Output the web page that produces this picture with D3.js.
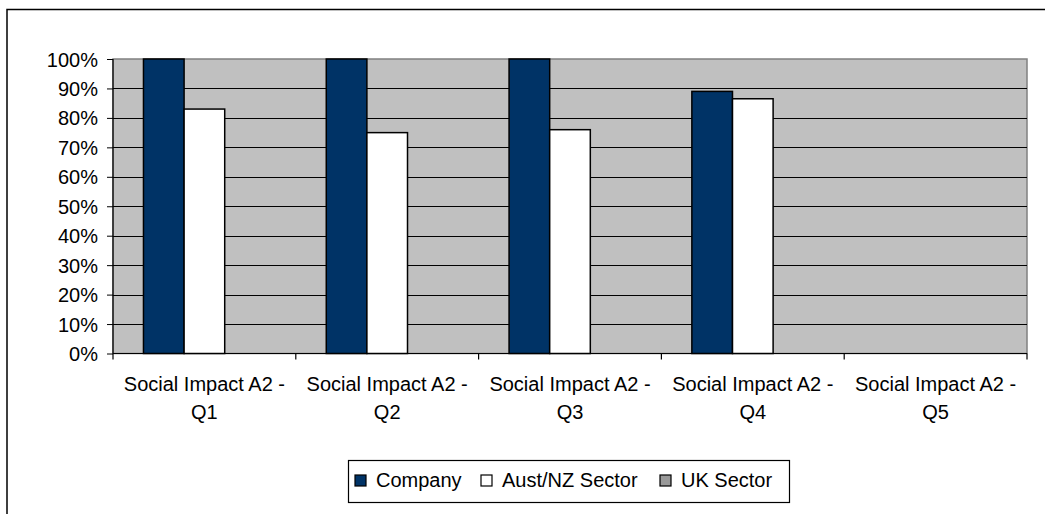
<!DOCTYPE html>
<html><head><meta charset="utf-8">
<script src="https://cdn.jsdelivr.net/npm/d3@7"></script>
<style>html,body{margin:0;padding:0;background:#fff;overflow:hidden}svg{display:block;font-family:"Liberation Sans",Arial,sans-serif}</style>
</head><body>
<svg id="c" width="1045" height="514"></svg>
<script>
const categories = ["Social Impact A2 - Q1","Social Impact A2 - Q2","Social Impact A2 - Q3","Social Impact A2 - Q4","Social Impact A2 - Q5"];
const seriesNames = ["Company","Aust/NZ Sector","UK Sector"];
const company = [1.00, 1.00, 1.00, 0.89, null];
const austNZ = [0.83, 0.75, 0.76, 0.865, null];
const uk = [null, null, null, null, null];
const yTicks = [0,0.1,0.2,0.3,0.4,0.5,0.6,0.7,0.8,0.9,1.0];
const colors = ["#003366","#FFFFFF","#999999"];

const svg = d3.select("#c");
// outer chart border
svg.append("rect").attr("x",7).attr("y",9.5).attr("width",1060).attr("height",520)
  .attr("fill","#fff").attr("stroke","#000").attr("stroke-width",1.5);

const L=113, R=1027, T=59, B=353.5;
const x = d3.scaleBand().domain(categories).range([L,R]).paddingInner(0).paddingOuter(0);
const y = d3.scaleLinear().domain([0,1]).range([B,T]);
const groupPad = 1.5; // gap width 150%
const bw = x.bandwidth()/(3+groupPad);
const xs = d3.scaleBand().domain(seriesNames).range([0,bw*3]);

// plot area
svg.append("rect").attr("x",L).attr("y",T).attr("width",R-L).attr("height",B-T)
  .attr("fill","#C0C0C0").attr("stroke","#808080").attr("stroke-width",1.5);

// gridlines
svg.append("g").selectAll("line").data(yTicks.filter(d=>d>0&&d<1)).join("line")
  .attr("x1",L).attr("x2",R).attr("y1",d=>Math.round(y(d))+0.5).attr("y2",d=>Math.round(y(d))+0.5)
  .attr("stroke","#000").attr("stroke-width",1.2);

// bars
const data = [company, austNZ, uk];
const bars = [];
seriesNames.forEach((s,si)=>{
  categories.forEach((c,ci)=>{
    const v = data[si][ci];
    if (v!=null) bars.push({s,si,c,v});
  });
});
svg.append("g").selectAll("rect").data(bars).join("rect")
  .attr("x",d=>x(d.c)+bw*groupPad/2+xs(d.s))
  .attr("width",xs.bandwidth())
  .attr("y",d=>y(d.v))
  .attr("height",d=>B-y(d.v))
  .attr("fill",d=>colors[d.si]).attr("stroke","#000").attr("stroke-width",1.5);

// y axis
const yAxis = d3.axisLeft(y).tickValues(yTicks).tickFormat(d3.format(".0%")).tickSize(6).tickPadding(9);
const gy = svg.append("g").attr("transform",`translate(${L},0)`).call(yAxis);
gy.select(".domain").attr("stroke","#000").attr("stroke-width",1.2).attr("d",`M0,${T}V${B}`);
gy.selectAll(".tick line").attr("stroke","#000");
gy.selectAll("text").attr("font-size","20px").attr("fill","#000").attr("font-family","Liberation Sans, Arial, sans-serif").attr("dy","0.35em");

// x axis
const xAxis = d3.axisBottom(x).tickSize(0).tickFormat("");
const gx = svg.append("g").attr("transform",`translate(0,${B})`).call(xAxis);
gx.select(".domain").attr("stroke","#000").attr("stroke-width",1.2).attr("d",`M${L},0H${R}`);
const bounds = categories.map(c=>x(c)).concat([R]);
gx.selectAll("line.b").data(bounds).join("line").attr("class","b")
  .attr("x1",d=>d).attr("x2",d=>d).attr("y1",0).attr("y2",6).attr("stroke","#000").attr("stroke-width",1.2);

// category labels (two lines)
const lab = svg.append("g").attr("font-size","20px").attr("fill","#000").attr("text-anchor","middle");
categories.forEach(c=>{
  const idx = c.lastIndexOf(" ");
  const l1 = c.slice(0, idx), l2 = c.slice(idx+1);
  const t = lab.append("text").attr("x",x(c)+x.bandwidth()/2);
  t.append("tspan").attr("x",x(c)+x.bandwidth()/2).attr("y",391).text(l1);
  t.append("tspan").attr("x",x(c)+x.bandwidth()/2).attr("y",419).text(l2);
});

// legend
const lg = svg.append("g");
lg.append("rect").attr("x",348.5).attr("y",460.5).attr("width",441).attr("height",42)
  .attr("fill","#fff").attr("stroke","#000").attr("stroke-width",1.2);
const legX = [355, 481, 660];
seriesNames.forEach((s,i)=>{
  lg.append("rect").attr("x",legX[i]).attr("y",475).attr("width",11).attr("height",11)
    .attr("fill",colors[i]).attr("stroke","#000").attr("stroke-width",1.2);
  lg.append("text").attr("x",legX[i]+21).attr("y",487).attr("font-size","20px").attr("fill","#000").text(s);
});
</script>
</body></html>
